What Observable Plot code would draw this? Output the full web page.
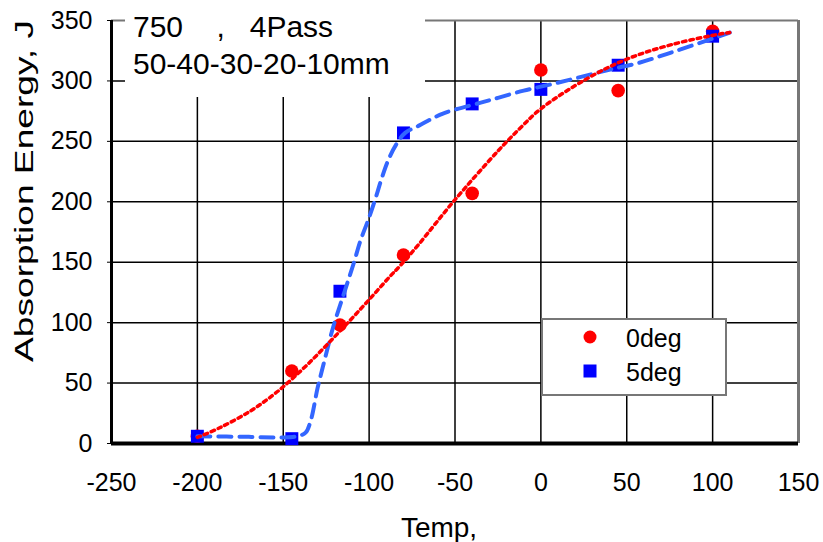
<!DOCTYPE html>
<html><head><meta charset="utf-8">
<script src="https://cdn.jsdelivr.net/npm/d3@7"></script>
<script src="https://cdn.jsdelivr.net/npm/@observablehq/plot@0.6"></script>
<style>html,body{margin:0;padding:0;background:#fff;} #chart{width:823px;height:542px;}</style>
</head><body><div id="chart"></div>
<script>
// measured points
const temps0 = [-200, -145, -117, -80, -40, 0, 45, 100];
const energy0 = [6, 60, 98, 156, 207, 309, 292, 341];
const temps5 = [-200, -145, -117, -80, -40, 0, 45, 100];
const energy5 = [6, 4, 126, 257, 281, 293, 313, 337];
// fitted curves
const fit0X = [-200, -187, -169, -156, -146, -134, -123, -111, -100, -88, -82, -71, -51, -25, -12, 0, 27, 50, 76, 105, 110];
const fit0Y = [5, 13, 27, 40, 52, 68, 84, 102, 119, 138, 147, 165, 200, 242, 261, 277, 302, 318, 330, 339, 340];
const fit5X = [-200, -170, -150, -142, -137, -134, -130, -127, -121, -114, -109, -105, -100, -96, -93, -89, -84, -79, -71, -57, -35, -25, -10, 7, 42, 56, 79, 105, 110];
const fit5Y = [6, 5.5, 5, 6, 9, 19, 46, 63, 96, 127, 149, 168, 187, 204, 218, 234, 248, 257, 263, 273, 282, 286, 292, 297.5, 310, 314.5, 325, 337.5, 340];
const xTicks = [-250, -200, -150, -100, -50, 0, 50, 100, 150];
const yTicks = [0, 50, 100, 150, 200, 250, 300, 350];
const seriesNames = ["0deg", "5deg"];
const titleLines = ["750    ,   4Pass", "50-40-30-20-10mm"];
const xLabel = "Temp,";
const yLabel = "Absorption Energy, J";

const RED = "#ff0000", BLUE = "#0000ff", BLUE_LINE = "#3366ff";
const pts0 = temps0.map((t, i) => ({x: t, y: energy0[i]}));
const pts5 = temps5.map((t, i) => ({x: t, y: energy5[i]}));
const fit0 = fit0X.map((t, i) => ({x: t, y: fit0Y[i]}));
const fit5 = fit5X.map((t, i) => ({x: t, y: fit5Y[i]}));

const FONT = "'Liberation Sans', Arial, sans-serif";
const plot = Plot.plot({
  width: 823, height: 542,
  marginLeft: 111, marginRight: 25, marginTop: 20, marginBottom: 99,
  style: {fontFamily: FONT, fontSize: "25px", color: "#000", background: "#fff", overflow: "visible"},
  x: {domain: [-250, 150], ticks: xTicks, tickFormat: d => String(d), label: null, tickSize: 0, tickPadding: 30},
  y: {domain: [0, 350], ticks: yTicks, tickFormat: d => String(d), label: null, tickSize: 4, tickPadding: 15},
  marks: [
    Plot.ruleX(xTicks.slice(1, -1), {stroke: "#000", strokeWidth: 1.5}),
    Plot.ruleY(yTicks.slice(1, -1), {stroke: "#000", strokeWidth: 1.5}),
    Plot.ruleY([350], {stroke: "#777", strokeWidth: 2}),
    Plot.ruleX([150], {stroke: "#777", strokeWidth: 3}),
    Plot.ruleX([-250], {stroke: "#000", strokeWidth: 3}),
    Plot.ruleY([0], {stroke: "#000", strokeWidth: 4}),
    Plot.dot(pts0, {x: "x", y: "y", r: 6.8, fill: RED, symbol: "circle"}),
    Plot.dot(pts5, {x: "x", y: "y", r: 7.3, fill: BLUE, symbol: "square"}),
    Plot.line(fit5, {x: "x", y: "y", stroke: BLUE_LINE, strokeWidth: 4, strokeDasharray: "13,8", curve: "catmull-rom"}),
    Plot.line(fit0, {x: "x", y: "y", stroke: RED, strokeWidth: 3.5, strokeDasharray: "3.5,4", curve: "catmull-rom"})
  ]
});
document.getElementById("chart").appendChild(plot);

const svg = d3.select(plot);
// title box
svg.append("rect").attr("x", 125).attr("y", 8).attr("width", 300).attr("height", 89).attr("fill", "#fff");
svg.append("text").attr("font-family", FONT).attr("font-size", 30).attr("fill", "#000")
  .attr("text-anchor", "start").style("white-space", "pre")
  .selectAll("tspan").data(titleLines).join("tspan")
  .attr("x", 133).attr("y", (d, i) => 37 + i * 37).text(d => d);

// legend
const lg = svg.append("g").attr("text-anchor", "start");
lg.append("rect").attr("x", 542).attr("y", 319).attr("width", 184).attr("height", 76)
  .attr("fill", "#fff").attr("stroke", "#777").attr("stroke-width", 2);
const sy = [337, 371];
lg.append("circle").attr("cx", 590).attr("cy", sy[0]).attr("r", 6.5).attr("fill", RED);
lg.append("rect").attr("x", 590 - 6.5).attr("y", sy[1] - 6.5).attr("width", 13).attr("height", 13).attr("fill", BLUE);
lg.selectAll("text.lab").data(seriesNames).join("text").attr("class", "lab")
  .attr("x", 626).attr("y", (d, i) => sy[i] + 10).attr("font-family", FONT).attr("font-size", 25).attr("fill", "#000").text(d => d);

// axis titles
svg.append("text").attr("x", 439).attr("y", 537).attr("text-anchor", "middle")
  .attr("font-family", FONT).attr("font-size", 28).attr("fill", "#000").text(xLabel);
svg.append("text").attr("transform", "translate(33,191) rotate(-90)").attr("text-anchor", "middle")
  .attr("font-family", FONT).attr("font-size", 26).attr("fill", "#000")
  .attr("textLength", 342).attr("lengthAdjust", "spacingAndGlyphs").text(yLabel);
</script>
</body></html>
